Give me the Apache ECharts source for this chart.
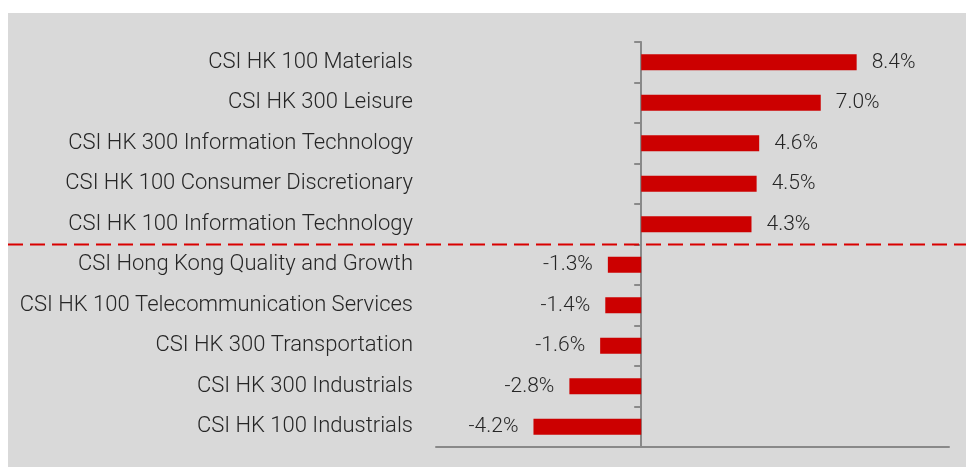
<!DOCTYPE html>
<html>
<head>
<meta charset="utf-8">
<script src="https://cdn.jsdelivr.net/npm/echarts@6/dist/echarts.min.js"></script>
<style>
  html, body { margin: 0; padding: 0; background: #ffffff; }
  #main { position: absolute; left: 8px; top: 13px; width: 958px; height: 454px; background: #d9d9d9; }
</style>
</head>
<body>
<div id="main"></div>
<script>
var categories = [
  'CSI HK 100 Materials',
  'CSI HK 300 Leisure',
  'CSI HK 300 Information Technology',
  'CSI HK 100 Consumer Discretionary',
  'CSI HK 100 Information Technology',
  'CSI Hong Kong Quality and Growth',
  'CSI HK 100 Telecommunication Services',
  'CSI HK 300 Transportation',
  'CSI HK 300 Industrials',
  'CSI HK 100 Industrials'
]
var returns = [8.4, 7.0, 4.6, 4.5, 4.3, -1.3, -1.4, -1.6, -2.8, -4.2]
// separator sits between these two rows
var splitAfter = 4

var font = 'Roboto'
var myChart = echarts.init(document.getElementById('main'))
var option = {
  animation: false,
  backgroundColor: '#d9d9d9',
  grid: {
    left: 428,
    right: 17,
    top: 29,
    bottom: 20,
    containLabel: false,
    outerBoundsMode: 'none'
  },
  xAxis: {
    type: 'value',
    min: -8,
    max: 12,
    axisLine: { show: true, lineStyle: { color: '#898989', width: 2 } },
    axisTick: { show: false },
    axisLabel: { show: false },
    splitLine: { show: false }
  },
  yAxis: {
    type: 'category',
    inverse: true,
    data: categories,
    axisLine: { show: true, onZero: true, lineStyle: { color: '#898989', width: 2 } },
    axisTick: { show: true, length: 7, lineStyle: { color: '#898989', width: 2 } },
    axisLabel: {
      margin: 23,
      color: '#262626',
      fontFamily: font,
      fontWeight: 300,
      fontSize: 22,
      padding: [3, 0, 0, 0]
    }
  },
  series: [{
    type: 'bar',
    barWidth: 16,
    itemStyle: { color: '#cc0000' },
    data: returns.map(function (v) {
      return {
        value: v,
        label: { position: v < 0 ? 'left' : 'right' }
      }
    }),
    label: {
      show: true,
      distance: 15,
      color: '#262626',
      fontFamily: font,
      fontWeight: 300,
      fontSize: 21,
      padding: [3, 0, 0, 0],
      formatter: function (p) { return p.value.toFixed(1) + '%' }
    }
  }]
}
myChart.setOption(option)

// dashed red separator across the full width
var y1 = myChart.convertToPixel({ yAxisIndex: 0 }, categories[splitAfter])
var y2 = myChart.convertToPixel({ yAxisIndex: 0 }, categories[splitAfter + 1])
var ySep = Math.round((y1 + y2) / 2) - 0.5
myChart.setOption({
  graphic: [{
    type: 'line',
    z: 100,
    shape: { x1: 0, y1: ySep, x2: myChart.getWidth(), y2: ySep },
    style: { stroke: '#d90000', lineWidth: 2, lineDash: [15, 7] }
  }]
})
</script>
</body>
</html>
